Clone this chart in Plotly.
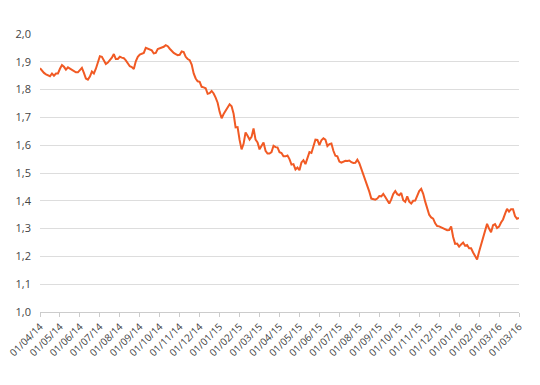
import plotly.graph_objects as go

tick_labels = ["01/04/14", "01/05/14", "01/06/14", "01/07/14", "01/08/14", "01/09/14",
               "01/10/14", "01/11/14", "01/12/14", "01/01/15", "01/02/15", "01/03/15",
               "01/04/15", "01/05/15", "01/06/15", "01/07/15", "01/08/15", "01/09/15",
               "01/10/15", "01/11/15", "01/12/15", "01/01/16", "01/02/16", "01/03/16",
               "01/03/16"]
points_per_tick = 10

values = [
    1.877, 1.868, 1.860, 1.855, 1.852, 1.848, 1.858, 1.850, 1.858, 1.858,
    1.875, 1.888, 1.882, 1.872, 1.880, 1.876, 1.872, 1.866, 1.862, 1.862,
    1.870, 1.878, 1.860, 1.840, 1.836, 1.847, 1.865, 1.858, 1.875, 1.900,
    1.920, 1.918, 1.902, 1.892, 1.897, 1.905, 1.915, 1.928, 1.910, 1.910,
    1.918, 1.915, 1.913, 1.905, 1.892, 1.884, 1.881, 1.874, 1.902, 1.918,
    1.926, 1.929, 1.932, 1.950, 1.947, 1.946, 1.941, 1.930, 1.932, 1.946,
    1.948, 1.950, 1.954, 1.960, 1.956, 1.947, 1.938, 1.932, 1.928, 1.924,
    1.925, 1.937, 1.935, 1.918, 1.910, 1.906, 1.890, 1.858, 1.840, 1.830,
    1.828, 1.810, 1.808, 1.805, 1.785, 1.787, 1.795, 1.786, 1.771, 1.753,
    1.720, 1.697, 1.712, 1.725, 1.739, 1.747, 1.740, 1.713, 1.664, 1.665,
    1.619, 1.585, 1.605, 1.646, 1.634, 1.620, 1.630, 1.660, 1.620, 1.610,
    1.585, 1.598, 1.610, 1.580, 1.570, 1.570, 1.575, 1.598, 1.593, 1.592,
    1.575, 1.572, 1.560, 1.560, 1.563, 1.550, 1.530, 1.532, 1.513, 1.520,
    1.510, 1.538, 1.546, 1.532, 1.550, 1.575, 1.572, 1.597, 1.620, 1.619,
    1.600, 1.618, 1.625, 1.620, 1.597, 1.604, 1.606, 1.580, 1.562, 1.560,
    1.541, 1.537, 1.541, 1.544, 1.543, 1.545, 1.539, 1.536, 1.537, 1.548,
    1.535, 1.515, 1.497, 1.480, 1.460, 1.433, 1.408, 1.407, 1.404, 1.408,
    1.417, 1.416, 1.425, 1.414, 1.399, 1.390, 1.405, 1.425, 1.435, 1.424,
    1.420, 1.428, 1.402, 1.396, 1.416, 1.397, 1.390, 1.400, 1.401, 1.422,
    1.435, 1.443, 1.425, 1.397, 1.369, 1.350, 1.340, 1.336, 1.319, 1.309,
    1.308, 1.304, 1.303, 1.297, 1.294, 1.295, 1.308, 1.270, 1.245, 1.246,
    1.235, 1.243, 1.250, 1.238, 1.241, 1.229, 1.229, 1.214, 1.203, 1.189,
    1.217, 1.243, 1.270, 1.297, 1.317, 1.300, 1.287, 1.312, 1.316, 1.302,
    1.307, 1.322, 1.333, 1.353, 1.371, 1.361, 1.370, 1.370, 1.345, 1.335,
    1.338,
]

y_ticks = [1.0, 1.1, 1.2, 1.3, 1.4, 1.5, 1.6, 1.7, 1.8, 1.9, 2.0]

x_idx = list(range(len(values)))
tick_vals = [i * points_per_tick for i in range(len(tick_labels))]

fig = go.Figure()
fig.add_trace(go.Scatter(
    x=x_idx, y=values, mode="lines",
    line=dict(color="#F15A24", width=2),
    hoverinfo="skip", showlegend=False,
))

fig.update_layout(
    width=540, height=385,
    margin=dict(l=40, r=21, t=34, b=73),
    paper_bgcolor="white", plot_bgcolor="white",
    separators=",.",
    font=dict(family="Open Sans", size=11, color="#444"),
    xaxis=dict(
        range=[0, tick_vals[-1]], automargin=False,
        tickmode="array", tickvals=tick_vals, ticktext=tick_labels,
        tickangle=-45, showgrid=False, zeroline=False,
        showline=True, linecolor="#ccc", linewidth=1,
        ticks="outside", ticklen=4, tickcolor="#ccc",
        ticklabeloverflow="allow",
        tickfont=dict(size=10, color="#444"),
    ),
    yaxis=dict(
        range=[1.0, 2.0], automargin=False,
        tickmode="array", tickvals=y_ticks,
        tickformat=".1f", showgrid=True, gridcolor="#ddd", gridwidth=1,
        zeroline=False, showline=False, ticks="",
        ticklabelstandoff=8,
        tickfont=dict(size=11, color="#444"),
    ),
)

fig.write_html(
    "out.html",
    config={"displayModeBar": False, "staticPlot": True},
    post_script="document.body.style.margin='0';document.body.style.overflow='hidden';",
)
